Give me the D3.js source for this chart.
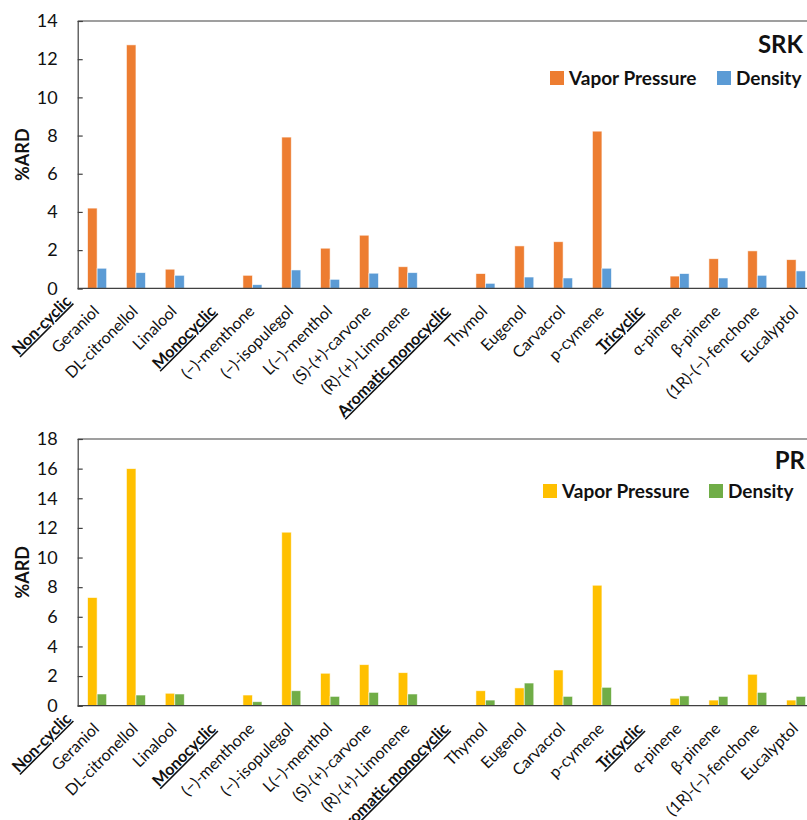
<!DOCTYPE html>
<html>
<head>
<meta charset="utf-8">
<script src="https://cdn.jsdelivr.net/npm/d3@7"></script>
<style>
  html, body { margin: 0; padding: 0; background: #fff; overflow: hidden; }
  svg { display: block; font-family: Lato, "Noto Sans", sans-serif; }
</style>
</head>
<body>
<svg id="chart" width="807" height="820"></svg>
<script>
// Compounds grouped by structure; group headers carry no values.
const categories = ["Geraniol", "DL-citronellol", "Linalool", "Monocyclic", "(−)-menthone",
  "(−)-isopulegol", "L(−)-menthol", "(S)-(+)-carvone", "(R)-(+)-Limonene", "Aromatic monocyclic",
  "Thymol", "Eugenol", "Carvacrol", "p-cymene", "Tricyclic", "α-pinene", "β-pinene",
  "(1R)-(−)-fenchone", "Eucalyptol"];
const groupHeaders = ["Non-cyclic", "Monocyclic", "Aromatic monocyclic", "Tricyclic"];
const seriesNames = ["Vapor Pressure", "Density"];

// %ARD, SRK equation of state
const srkVapor   = [4.2, 12.75, 1.0, null, 0.68, 7.92, 2.1, 2.78, 1.13, null, 0.77, 2.22, 2.44, 8.23, null, 0.64, 1.55, 1.96, 1.5];
const srkDensity = [1.05, 0.82, 0.68, null, 0.19, 0.96, 0.47, 0.79, 0.82, null, 0.26, 0.59, 0.54, 1.05, null, 0.77, 0.54, 0.68, 0.91];
// %ARD, Peng-Robinson equation of state
const prVapor    = [7.3, 16.0, 0.84, null, 0.72, 11.71, 2.19, 2.77, 2.23, null, 1.01, 1.2, 2.41, 8.13, null, 0.5, 0.38, 2.12, 0.38];
const prDensity  = [0.79, 0.72, 0.79, null, 0.27, 1.01, 0.63, 0.9, 0.79, null, 0.38, 1.53, 0.63, 1.24, null, 0.66, 0.63, 0.9, 0.63];

const srkTicks = [0, 2, 4, 6, 8, 10, 12, 14];
const prTicks  = [0, 2, 4, 6, 8, 10, 12, 14, 16, 18];

const svg = d3.select("#chart");
const axisColor = "#404040";

const panels = [
  { title: "SRK", vapor: srkVapor, density: srkDensity, ticks: srkTicks, yMax: 14,
    top: 21, bottom: 288.3, colors: ["#ED7D31", "#5B9BD5"],
    titleX: 803, titleY: 53, legendX: [550, 717], legendY: 71 },
  { title: "PR", vapor: prVapor, density: prDensity, ticks: prTicks, yMax: 18,
    top: 439, bottom: 705.7, colors: ["#FFC000", "#70AD47"],
    titleX: 805, titleY: 469, legendX: [543, 709], legendY: 484 }
];

const plotLeft = 77.7, plotRight = 815.5;

panels.forEach(p => {
  const g = svg.append("g");

  const x0 = d3.scaleBand().domain(categories).range([plotLeft, plotRight]).paddingInner(0).paddingOuter(0);
  const groupW = x0.bandwidth() * 0.49;
  const x1 = d3.scaleBand().domain(seriesNames).range([0, groupW]);
  const y = d3.scaleLinear().domain([0, p.yMax]).range([p.bottom, p.top]);
  const color = d3.scaleOrdinal().domain(seriesNames).range(p.colors);

  // top frame line
  g.append("line").attr("x1", plotLeft).attr("x2", 807).attr("y1", p.top).attr("y2", p.top)
    .attr("stroke", axisColor).attr("stroke-width", 1.2);

  // y axis with inward ticks
  const yAxis = d3.axisLeft(y).tickValues(p.ticks).tickSize(-5).tickPadding(20);
  const ya = g.append("g").attr("transform", `translate(${plotLeft},0)`).call(yAxis);
  ya.select(".domain").attr("stroke", axisColor).attr("stroke-width", 1.2);
  ya.selectAll(".tick line").attr("stroke", axisColor).attr("stroke-width", 1.2);
  ya.selectAll(".tick text").attr("font-size", 18).attr("fill", "#111")
    .attr("font-family", "Lato, sans-serif");

  // bars
  const rows = categories.map((c, i) => ({ cat: c, vals: [
    { s: seriesNames[0], v: p.vapor[i] }, { s: seriesNames[1], v: p.density[i] }] }));
  const grp = g.selectAll("g.cat").data(rows).join("g").attr("class", "cat")
    .attr("transform", d => `translate(${x0(d.cat) + (x0.bandwidth() - groupW) / 2},0)`);
  grp.selectAll("rect").data(d => d.vals.filter(v => v.v != null)).join("rect")
    .attr("x", d => x1(d.s))
    .attr("width", x1.bandwidth())
    .attr("y", d => y(d.v))
    .attr("height", d => y(0) - y(d.v))
    .attr("fill", d => color(d.s))
    .attr("stroke", "#fff").attr("stroke-width", 0.8).attr("stroke-opacity", 0.7);

  // x baseline
  g.append("line").attr("x1", plotLeft).attr("x2", 807).attr("y1", y(0)).attr("y2", y(0))
    .attr("stroke", axisColor).attr("stroke-width", 1.3);

  // category labels, rotated; the leading group header sits just left of the first band
  const labels = [{ t: "Non-cyclic", x: x0(categories[0]) + x0.bandwidth() / 2 - 28, dy: -10 }]
    .concat(categories.map(c => ({ t: c, x: x0(c) + x0.bandwidth() / 2, dy: 0 })));
  g.selectAll("text.cat").data(labels).join("text").attr("class", "cat")
    .attr("transform", d => `translate(${d.x + 3},${y(0) + 24 + d.dy}) rotate(-45)`)
    .attr("text-anchor", "end")
    .attr("font-size", 16)
    .attr("fill", "#111")
    .attr("font-weight", d => groupHeaders.includes(d.t) ? 700 : 400)
    .attr("text-decoration", d => groupHeaders.includes(d.t) ? "underline" : null)
    .text(d => d.t);

  // y axis title
  g.append("text")
    .attr("transform", `translate(29,${(p.top + p.bottom) / 2}) rotate(-90)`)
    .attr("text-anchor", "middle").attr("font-weight", 700).attr("font-size", 18).attr("fill", "#111")
    .text("%ARD");

  // panel title
  g.append("text").attr("x", p.titleX).attr("y", p.titleY).attr("text-anchor", "end")
    .attr("font-weight", 700).attr("font-size", 24).attr("fill", "#111").text(p.title);

  // legend
  const lg = g.selectAll("g.leg").data(seriesNames).join("g").attr("class", "leg")
    .attr("transform", (d, i) => `translate(${p.legendX[i]},${p.legendY})`);
  lg.append("rect").attr("width", 14).attr("height", 14).attr("fill", d => color(d));
  lg.append("text").attr("x", 19).attr("y", 13.5).attr("font-size", 19).attr("font-weight", 700)
    .attr("fill", "#111").text(d => d);
});
</script>
</body>
</html>
